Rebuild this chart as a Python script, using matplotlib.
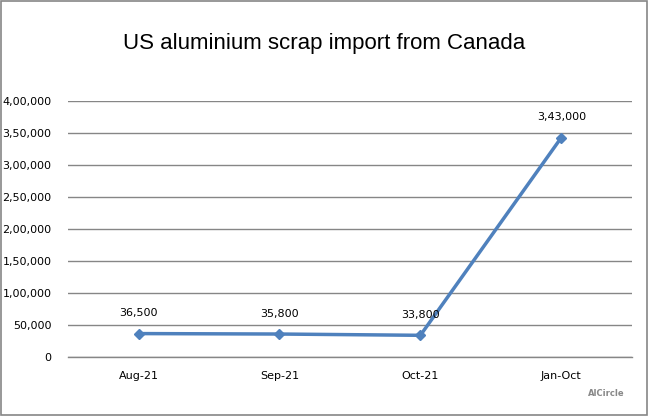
import matplotlib.pyplot as plt
from matplotlib.ticker import FuncFormatter
from matplotlib.patches import Rectangle

categories = ["Aug-21", "Sep-21", "Oct-21", "Jan-Oct"]
imports = [36500, 35800, 33800, 343000]
point_labels = ["36,500", "35,800", "33,800", "3,43,000"]


def indian_format(v, pos=None):
    """Indian digit grouping, e.g. 3,50,000"""
    v = int(round(v))
    s = str(v)
    if len(s) <= 3:
        return s
    head, tail = s[:-3], s[-3:]
    parts = []
    while len(head) > 2:
        parts.insert(0, head[-2:])
        head = head[:-2]
    if head:
        parts.insert(0, head)
    return ",".join(parts) + "," + tail


fig = plt.figure(figsize=(6.48, 4.16), dpi=100)
ax = fig.add_axes([0.105, 0.142, 0.870, 0.615])

x = list(range(len(categories)))
ax.plot(x, imports, color="#4F81BD", lw=2.5, marker="D", markersize=5.5,
        zorder=3, clip_on=False)

for xi, yi, lab in zip(x, imports, point_labels):
    ax.annotate(lab, (xi, yi), xytext=(0, 11), textcoords="offset points",
                ha="center", va="bottom", fontsize=8, color="#000000")

ax.set_xlim(-0.5, 3.5)
ax.set_ylim(0, 400000)
ax.set_yticks(range(0, 400001, 50000))
ax.yaxis.set_major_formatter(FuncFormatter(indian_format))
ax.set_xticks(x)
ax.set_xticklabels(categories)
ax.tick_params(axis="both", length=0, labelsize=8, colors="#000000")
ax.tick_params(axis="y", pad=12)
ax.tick_params(axis="x", pad=10)
ax.grid(axis="y", color="#868686", lw=1)
# the zero line sits on the axes edge, draw it unclipped
ax.axhline(0, color="#868686", lw=1, clip_on=False, zorder=1)
ax.set_axisbelow(True)
for s in ax.spines.values():
    s.set_visible(False)

fig.text(0.5, 0.895, "US aluminium scrap import from Canada",
         ha="center", va="center", fontsize=16, family="Liberation Sans")

# outer border of the chart area
fig.patches.append(Rectangle((0.001, 0.002), 0.997, 0.996,
                             transform=fig.transFigure, fill=False,
                             edgecolor="#868686", lw=1.2))

# small watermark in the corner
fig.text(0.935, 0.055, "AlCircle", ha="center", va="center", fontsize=6,
         color="#888888", fontweight="bold")

fig.savefig("out.png", dpi=100)
